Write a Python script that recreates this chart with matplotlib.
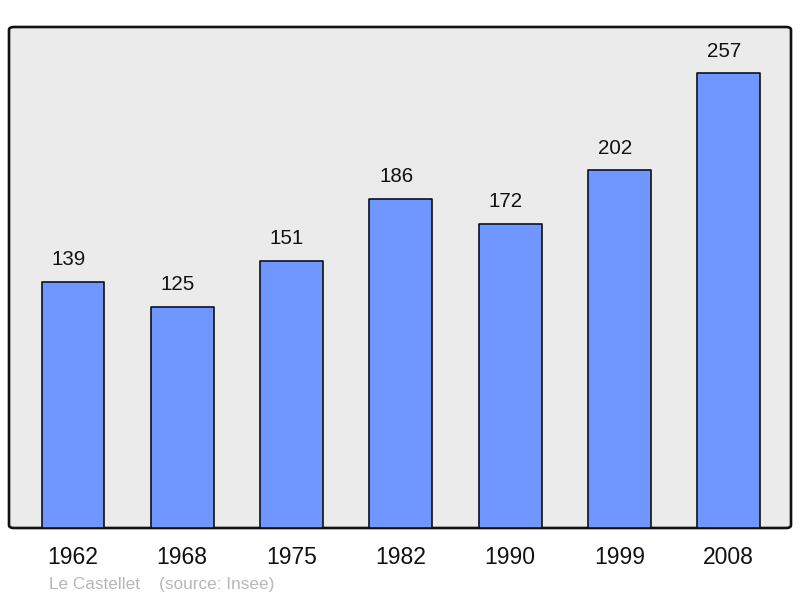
import matplotlib
matplotlib.use("Agg")
import matplotlib.pyplot as plt
from matplotlib.patches import FancyBboxPatch

years = ["1962", "1968", "1975", "1982", "1990", "1999", "2008"]
population = [139, 125, 151, 186, 172, 202, 257]
commune = "Le Castellet"
source = "(source: Insee)"

plt.rcParams['font.family'] = ['Liberation Sans', 'DejaVu Sans']

W, H = 800, 598
fig = plt.figure(figsize=(W / 100, H / 100), dpi=100)
ax = fig.add_axes([9 / W, (H - 528) / H, (791 - 9) / W, (528 - 27) / H])
ax.set_facecolor('none')
for s in ax.spines.values():
    s.set_visible(False)

bg = FancyBboxPatch((0, 0), 1, 1, boxstyle="round,pad=0,rounding_size=0.006",
                    transform=ax.transAxes, facecolor='#ebebeb', edgecolor='#111111',
                    linewidth=1.9, zorder=0, clip_on=False)
ax.add_patch(bg)

x = list(range(len(years)))
bars = ax.bar(x, population, width=0.575, color='#7096ff', edgecolor='#111111',
              linewidth=1.2, zorder=2)
for b in bars:
    b.set_joinstyle('round')

for xi, v in zip(x, population):
    ax.annotate(str(v), (xi, v), xytext=(-3.3, 9), textcoords='offset points',
                ha='center', va='bottom', fontsize=14.8, color='#111111')

ax.set_xlim(-0.585, 6.57)
ax.set_ylim(0, 283)
ax.set_yticks([])
ax.set_xticks(x)
ax.set_xticklabels(years, fontsize=16.5, color='#111111')
ax.tick_params(axis='x', length=0, pad=13)

fig.text(49 / W, 1 - 584 / H, commune + "    " + source, fontsize=12.4,
         color='#b8b8b8', ha='left', va='center')

fig.savefig("out.png", dpi=100)
